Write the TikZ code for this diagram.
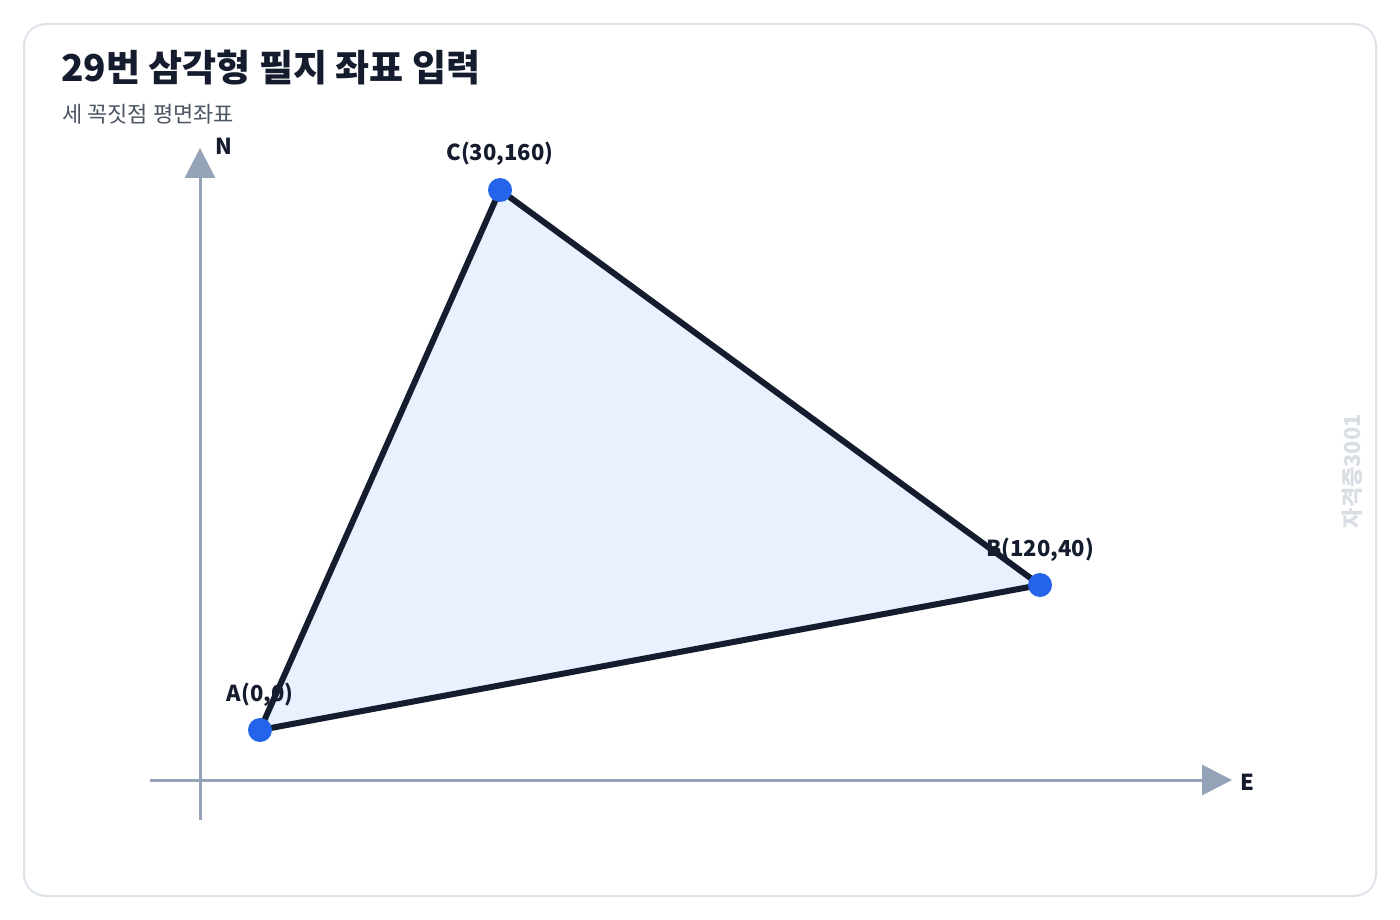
\documentclass[tikz,border=0pt]{standalone}
\usepackage{fontspec}
\setmainfont{Noto Sans CJK KR}
\usetikzlibrary{arrows.meta}
\definecolor{frame}{HTML}{DDE3EA}
\definecolor{axis}{HTML}{94A3B8}
\definecolor{ink}{HTML}{141C2E}
\definecolor{sub}{HTML}{4B5563}
\definecolor{dot}{HTML}{2563EB}
\definecolor{fillc}{HTML}{E8F1FD}
\definecolor{wm}{HTML}{D9DEE5}
\begin{document}
\begin{tikzpicture}[x=1pt,y=-1pt,
  axisline/.style={draw=axis,line width=3pt,-{Triangle[length=30pt,width=30pt]}},
  ptlabel/.style={font=\fontsize{22}{26}\selectfont\bfseries,text=ink,anchor=base},
  vdot/.style={circle,fill=dot,minimum size=24pt,inner sep=0pt}]
\useasboundingbox (0,0) rectangle (1400,920);
\fill[white] (0,0) rectangle (1400,920);
\draw[frame,line width=2pt,rounded corners=22pt] (24,24) rectangle (1376,896);
\node[anchor=base west,inner sep=0pt,font=\fontsize{37}{42}\selectfont\bfseries,text=ink] (title) at (61,82) {29번 삼각형 필지 좌표 입력};
\node[anchor=base west,inner sep=0pt,font=\fontsize{22}{26}\selectfont,text=sub] (subtitle) at (62,123) {세 꼭짓점 평면좌표};
\node[rotate=90,inner sep=0pt,font=\fontsize{22}{26}\selectfont\bfseries,text=wm] (wmark) at (1352,471) {자격증3001};
\coordinate (nbot) at (200,820);
\coordinate (ntop) at (200,148);
\coordinate (ewest) at (150,780);
\coordinate (eeast) at (1232,780);
\draw[axisline] (nbot) -- (ntop);
\draw[axisline] (ewest) -- (eeast);
\node[anchor=base west,inner sep=0pt,font=\fontsize{22}{26}\selectfont\bfseries,text=ink] (nlab) at (215,155) {N};
\node[anchor=base west,inner sep=0pt,font=\fontsize{22}{26}\selectfont\bfseries,text=ink] (elab) at (1240,790) {E};
\coordinate (A) at (260,730);
\coordinate (B) at (1040,585);
\coordinate (C) at (500,190);
\fill[fillc] (A) -- (B) -- (C) -- cycle;
\node[ptlabel] (la) at (260,701) {A(0,0)};
\node[ptlabel] (lb) at (1040,556) {B(120,40)};
\node[ptlabel] (lc) at (500,161) {C(30,160)};
\draw[ink,line width=6pt,line join=round] (A) -- (B) -- (C) -- cycle;
\node[vdot] (da) at (A) {};
\node[vdot] (db) at (B) {};
\node[vdot] (dc) at (C) {};
\end{tikzpicture}
\end{document}
